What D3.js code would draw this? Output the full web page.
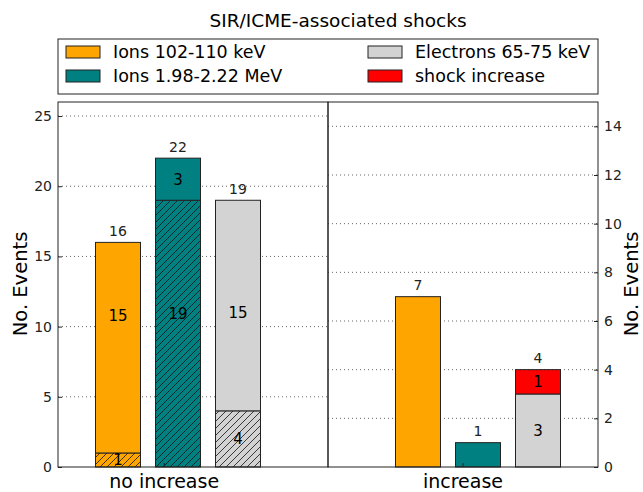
<!DOCTYPE html>
<meta charset="utf-8">
<style>
body { margin: 0; background: #fff; }
svg text { font-family: "DejaVu Sans", sans-serif; fill: #222; }
.grid line { stroke: #666; stroke-dasharray: 1,3; stroke-width: 1; }
.bar { stroke: #222; stroke-width: 1; }
</style>
<svg width="643" height="492"></svg>
<script src="https://cdn.jsdelivr.net/npm/d3@7"></script>
<script>

// data
var groups = ["no increase", "increase"];
var series = ["Ions 102-110 keV", "Ions 1.98-2.22 MeV", "Electrons 65-75 keV"];
var colors = ["#ffa500", "#008080", "#d3d3d3"];
var shockColor = "#ff0000";

// no increase: hatched lower part + plain upper part
var noIncLower = [1, 19, 4];
var noIncUpper = [15, 3, 15];
var noIncUpperLabelAt = [10.8, 10.9, 11];
// increase: plain part + shock increase part
var incBase = [7, 1, 3];
var incShock = [0, 0, 1];
var incLabelled = [false, false, true];

var leftTicks = [0, 5, 10, 15, 20, 25];
var rightTicks = [0, 2, 4, 6, 8, 10, 12, 14];

var svg = d3.select("svg");
var top_ = 102, bottom = 467, left = 58, mid = 328, right = 598;

var defs = svg.append("defs");
colors.forEach(function(c, i) {
  var p = defs.append("pattern")
      .attr("id", "hatch" + i)
      .attr("patternUnits", "userSpaceOnUse")
      .attr("width", 7).attr("height", 7);
  p.append("rect").attr("width", 7).attr("height", 7).attr("fill", c);
  p.append("path")
      .attr("d", "M-1,8 L8,-1 M-4,4 L4,-4 M3,11 L11,3")
      .attr("stroke", "#111").attr("stroke-width", 0.8);
});

var yL = d3.scaleLinear().domain([0, 26]).range([bottom, top_]);
var yR = d3.scaleLinear().domain([0, 15]).range([bottom, top_]);
var xL = d3.scaleLinear().domain([0, 4.5]).range([left, mid]);
var xR = d3.scaleLinear().domain([0, 4.5]).range([mid, right]);
var barW = 0.75;
var posL = [1, 2, 3], posR = [1.5, 2.5, 3.5];
var groupTick = [1.77, 2.25];

// grids
svg.append("g").attr("class", "grid")
  .selectAll("line").data(leftTicks.slice(1)).enter().append("line")
    .attr("x1", left).attr("x2", mid)
    .attr("y1", function(d) { return yL(d); }).attr("y2", function(d) { return yL(d); });
svg.append("g").attr("class", "grid")
  .selectAll("line").data(rightTicks.slice(1)).enter().append("line")
    .attr("x1", mid).attr("x2", right)
    .attr("y1", function(d) { return yR(d); }).attr("y2", function(d) { return yR(d); });

// left panel bars
var gL = svg.append("g");
series.forEach(function(s, i) {
  var x0 = xL(posL[i] - barW / 2), w = xL(posL[i] + barW / 2) - x0;
  gL.append("rect").attr("class", "bar")
    .attr("x", x0).attr("width", w)
    .attr("y", yL(noIncLower[i])).attr("height", yL(0) - yL(noIncLower[i]))
    .attr("fill", "url(#hatch" + i + ")");
  var tot = noIncLower[i] + noIncUpper[i];
  gL.append("rect").attr("class", "bar")
    .attr("x", x0).attr("width", w)
    .attr("y", yL(tot)).attr("height", yL(noIncLower[i]) - yL(tot))
    .attr("fill", colors[i]);
  var lowMid = noIncLower[i] / 2;
  var upMid = noIncLower[i] + noIncUpper[i] / 2;
  var lowAt = noIncLower[i] > 10 ? noIncUpperLabelAt[i] : lowMid;
  var upAt = noIncUpper[i] > 10 ? noIncUpperLabelAt[i] : upMid;
  gL.append("text").attr("x", xL(posL[i])).attr("y", yL(lowAt))
    .attr("text-anchor", "middle").attr("dy", "0.36em")
    .style("font-size", "15px").style("fill", "#000").text(noIncLower[i]);
  gL.append("text").attr("x", xL(posL[i])).attr("y", yL(upAt))
    .attr("text-anchor", "middle").attr("dy", "0.36em")
    .style("font-size", "15px").style("fill", "#000").text(noIncUpper[i]);
  gL.append("text").attr("x", xL(posL[i])).attr("y", yL(tot) - 6)
    .attr("text-anchor", "middle")
    .style("font-size", "14px").text(tot);
});

// right panel bars
var gR = svg.append("g");
series.forEach(function(s, i) {
  var x0 = xR(posR[i] - barW / 2), w = xR(posR[i] + barW / 2) - x0;
  var tot = incBase[i] + incShock[i];
  gR.append("rect").attr("class", "bar")
    .attr("x", x0).attr("width", w)
    .attr("y", yR(incBase[i])).attr("height", yR(0) - yR(incBase[i]))
    .attr("fill", colors[i]);
  if (incShock[i] > 0) {
    gR.append("rect").attr("class", "bar")
      .attr("x", x0).attr("width", w)
      .attr("y", yR(tot)).attr("height", yR(incBase[i]) - yR(tot))
      .attr("fill", shockColor);
  }
  if (incLabelled[i]) {
    gR.append("text").attr("x", xR(posR[i])).attr("y", yR(incBase[i] / 2))
      .attr("text-anchor", "middle").attr("dy", "0.36em")
      .style("font-size", "15px").style("fill", "#000").text(incBase[i]);
    gR.append("text").attr("x", xR(posR[i])).attr("y", yR(incBase[i] + incShock[i] / 2))
      .attr("text-anchor", "middle").attr("dy", "0.36em")
      .style("font-size", "15px").style("fill", "#000").text(incShock[i]);
  }
  gR.append("text").attr("x", xR(posR[i])).attr("y", yR(tot) - 7)
    .attr("text-anchor", "middle")
    .style("font-size", "14px").text(tot);
});

// axes
var axL = svg.append("g").attr("transform", "translate(" + left + ",0)")
  .call(d3.axisLeft(yL).tickValues(leftTicks).tickSize(-4).tickPadding(6));
var axR = svg.append("g").attr("transform", "translate(" + right + ",0)")
  .call(d3.axisRight(yR).tickValues(rightTicks).tickSize(-4).tickPadding(6));
[axL, axR].forEach(function(a) {
  a.select(".domain").remove();
  a.selectAll("line").attr("stroke", "#222");
  a.selectAll("text").style("font-size", "14px").style("font-family", "DejaVu Sans").attr("fill", "#222");
});

// bottom ticks
svg.append("g").selectAll("line").data(groups).enter().append("line")
  .attr("x1", function(d, i) { return i === 0 ? xL(groupTick[0]) : xR(groupTick[1]); })
  .attr("x2", function(d, i) { return i === 0 ? xL(groupTick[0]) : xR(groupTick[1]); })
  .attr("y1", bottom).attr("y2", bottom - 4).attr("stroke", "#222");
svg.append("g").selectAll("text").data(groups).enter().append("text")
  .attr("x", function(d, i) { return i === 0 ? xL(groupTick[0]) : xR(groupTick[1]); })
  .attr("y", 488).attr("text-anchor", "middle")
  .style("font-size", "19px").style("fill", "#000")
  .text(function(d) { return d; });

// frames
svg.append("rect").attr("x", left).attr("y", top_).attr("width", mid - left).attr("height", bottom - top_)
  .attr("fill", "none").attr("stroke", "#222");
svg.append("rect").attr("x", mid).attr("y", top_).attr("width", right - mid).attr("height", bottom - top_)
  .attr("fill", "none").attr("stroke", "#222");

// y labels
svg.append("text").attr("transform", "translate(27,284) rotate(-90)")
  .attr("text-anchor", "middle").style("font-size", "19.5px").style("fill", "#000").text("No. Events");
svg.append("text").attr("transform", "translate(638,284) rotate(-90)")
  .attr("text-anchor", "middle").style("font-size", "19.5px").style("fill", "#000").text("No. Events");

// title
svg.append("text").attr("x", 338).attr("y", 27).attr("text-anchor", "middle")
  .style("font-size", "18.5px").style("fill", "#000").text("SIR/ICME-associated shocks");

// legend
var leg = svg.append("g");
leg.append("rect").attr("x", left).attr("y", 39).attr("width", right - left).attr("height", 55)
  .attr("fill", "#fff").attr("stroke", "#222");
var legItems = [
  { name: series[0], color: colors[0] },
  { name: series[1], color: colors[1] },
  { name: series[2], color: colors[2] },
  { name: "shock increase", color: shockColor }
];
legItems.forEach(function(d, i) {
  var col = Math.floor(i / 2), row = i % 2;
  var lx = col === 0 ? 66 : 368, ly = 46 + row * 24;
  leg.append("rect").attr("x", lx).attr("y", ly).attr("width", 34).attr("height", 12)
    .attr("fill", d.color).attr("stroke", "#222");
  leg.append("text").attr("x", lx + 47).attr("y", ly + 6).attr("dy", "0.36em")
    .style("font-size", "17.5px").style("fill", "#000").text(d.name);
});

</script>
